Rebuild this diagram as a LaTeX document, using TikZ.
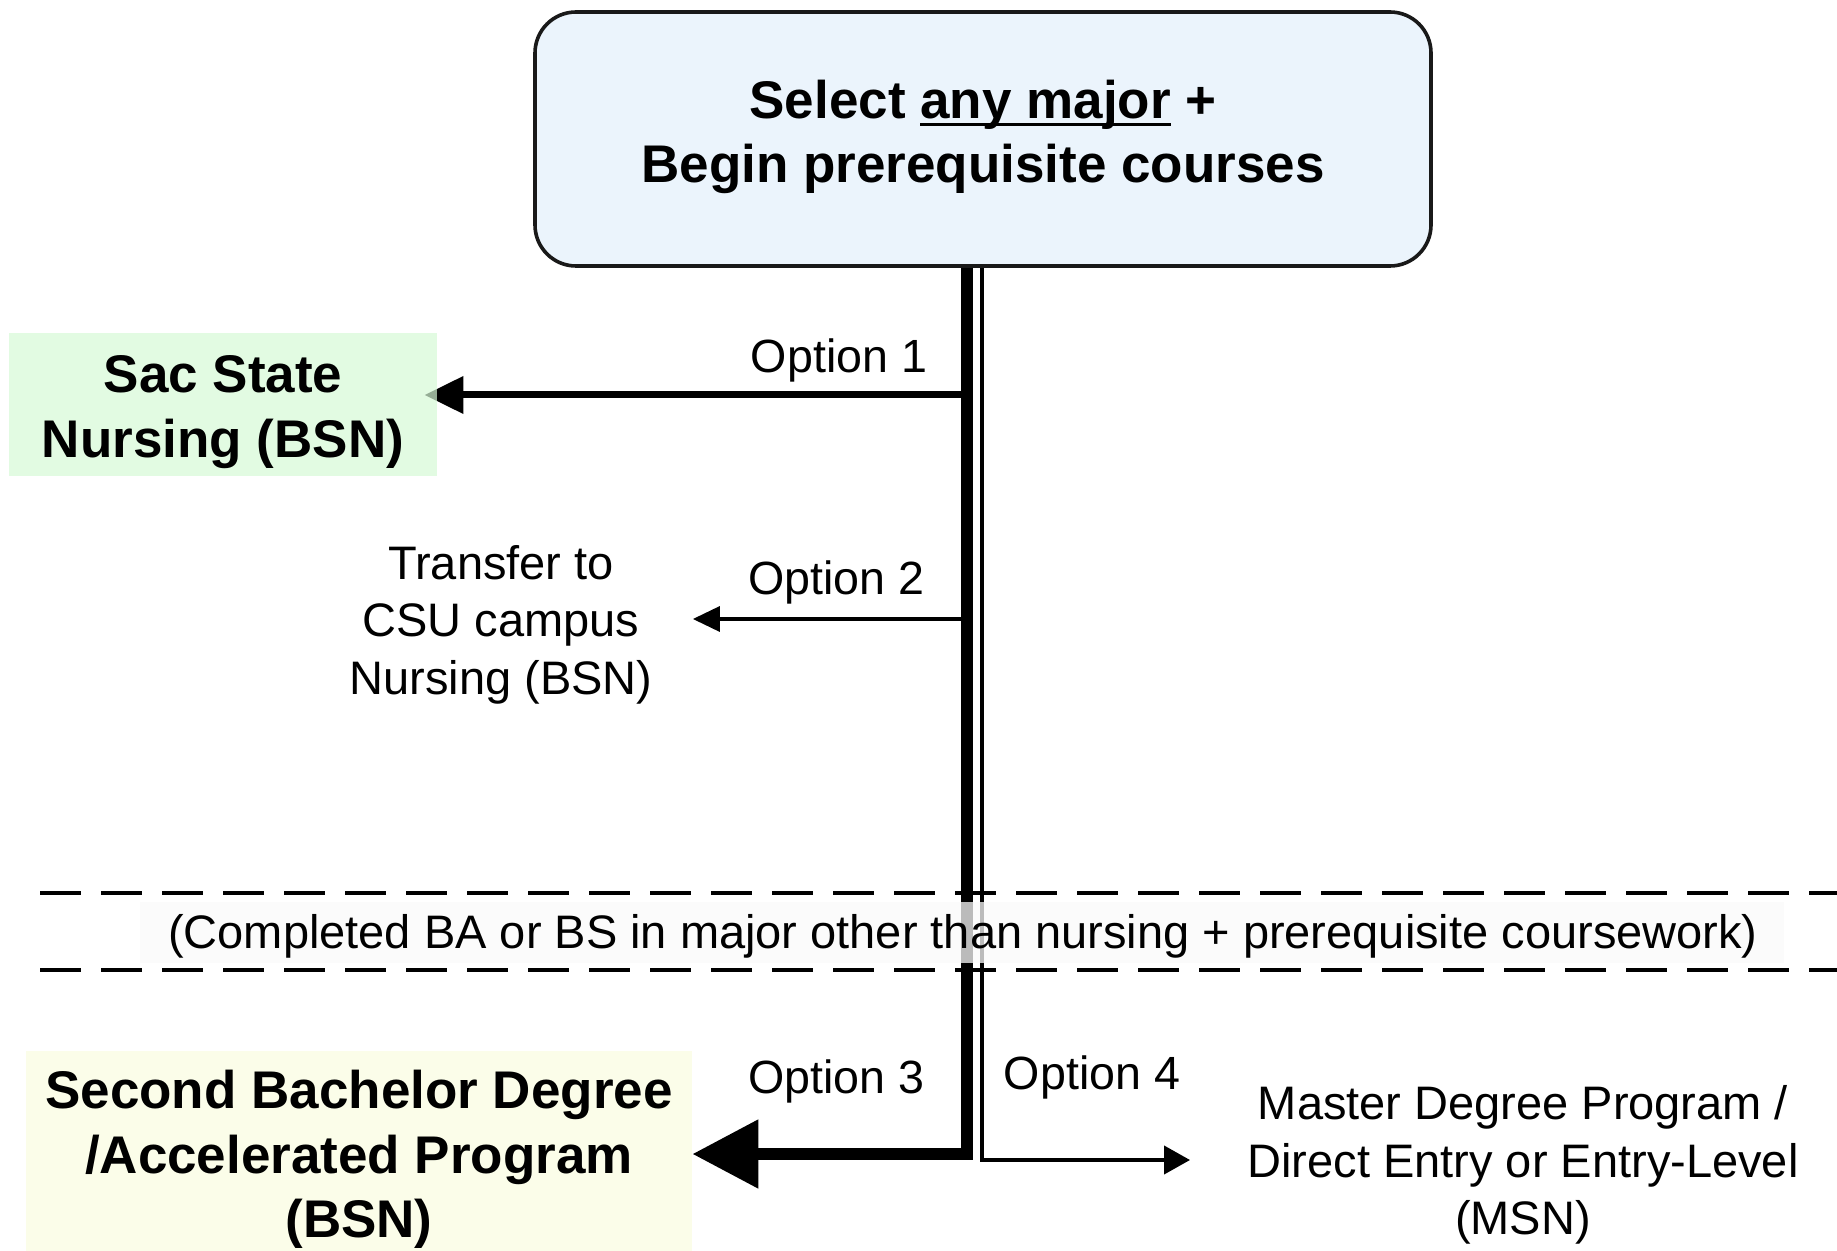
\documentclass[tikz,border=0pt]{standalone}
\usepackage{fontspec}
\setmainfont{Liberation Sans}
\usetikzlibrary{arrows.meta}
\definecolor{blueF}{RGB}{235,244,252}
\definecolor{greenF}{RGB}{214,249,214}
\definecolor{yellowF}{RGB}{251,253,233}
\newcommand\myul[1]{\setbox0\hbox{#1}\rlap{\rule[-4pt]{\wd0}{1.75pt}}\copy0\relax}
\tikzset{
  boldtxt/.style={font=\fontsize{26.5pt}{32.2pt}\selectfont\bfseries, align=center},
  regtxt/.style={font=\fontsize{23.5pt}{28.7pt}\selectfont, align=center},
  optlabel/.style={font=\fontsize{23.3pt}{28pt}\selectfont, inner sep=0pt},
  thickline/.style={line width=6pt, draw=black},
  thinline/.style={line width=2pt, draw=black},
  bandline/.style={line width=2pt, dash pattern=on 20.5pt off 10pt},
}
\begin{document}
\begin{tikzpicture}[x=0.5pt,y=-0.5pt]
\useasboundingbox (0,0) rectangle (1837,1251);

% top box
\node[draw=black!90, line width=1.8pt, fill=blueF, rounded corners=20.5pt,
      minimum width=448pt, minimum height=127pt, inner sep=0pt] (top) at (983,139) {};
\node[boldtxt] (toptxt) at (983,137) {Select \myul{any major} +\\Begin prerequisite courses};

% junction coordinates
\coordinate (j1) at (967,395);
\coordinate (j2) at (967,619);
\coordinate (j3) at (967,1154);
\coordinate (j4) at (982,1160);

% target nodes
\node[regtxt, inner xsep=20pt, inner ysep=0pt] (tr) at (501,624.5) {Transfer to\\CSU campus\\Nursing (BSN)};
\node[fill=yellowF, minimum width=333pt, minimum height=100pt, inner sep=0pt] (sb) at (359,1151) {};
\node[boldtxt] (sbtxt) at (359,1159.5) {Second Bachelor Degree\\/Accelerated Program\\(BSN)};
\node[regtxt, inner xsep=28.5pt, inner ysep=0pt] (ms) at (1523,1165) {Master Degree Program /\\Direct Entry or Entry-Level\\(MSN)};

% trunks
\draw[thickline, -{Triangle[length=33pt,width=33pt]}] (top.south -| j3) -- (j3) -- (sb.east |- j3);
\draw[thinline, -{Triangle[length=13pt,width=14pt]}] (top.south -| j4) -- (j4) -- (ms.west |- j4);

% option 2
\draw[line width=1.75pt, -{Triangle[length=13.5pt,width=12.5pt]}] (j2) -- (tr.east |- j2);

% option 1 (box drawn after, semi-transparent over tip)
\node[minimum width=214pt, minimum height=71.5pt, inner sep=0pt] (gb) at (223,404.5) {};
\draw[line width=3.5pt, -{Triangle[length=19.5pt,width=18pt]}, shorten >=-6.5pt] (j1) -- (gb.east |- j1);
\fill[greenF, fill opacity=0.7] (gb.south west) rectangle (gb.north east);
\node[boldtxt] (gbtxt) at (223,412) {Sac State\\Nursing (BSN)};

% option labels
\node[optlabel] (o1) at (839,360.5) {Option 1};
\node[optlabel] (o2) at (836.5,582.5) {Option 2};
\node[optlabel] (o3) at (836.5,1081.5) {Option 3};
\node[optlabel] (o4) at (1092,1077.5) {Option 4};

% dashed band
\coordinate (bl1) at (40,893);
\coordinate (br1) at (1837,893);
\coordinate (bl2) at (40,970);
\coordinate (br2) at (1837,970);
\draw[bandline] (bl1) -- (br1);
\draw[bandline] (bl2) -- (br2);
\node[regtxt, fill=white!98!black, fill opacity=0.75, text opacity=1,
      minimum width=822pt, minimum height=30.5pt, inner sep=0pt] (band) at (962,932.5) {};
\node[regtxt, inner sep=0pt] (bandtxt) at (963,936)
  {(Completed BA or BS in major other than nursing + prerequisite coursework)};
\end{tikzpicture}
\end{document}
